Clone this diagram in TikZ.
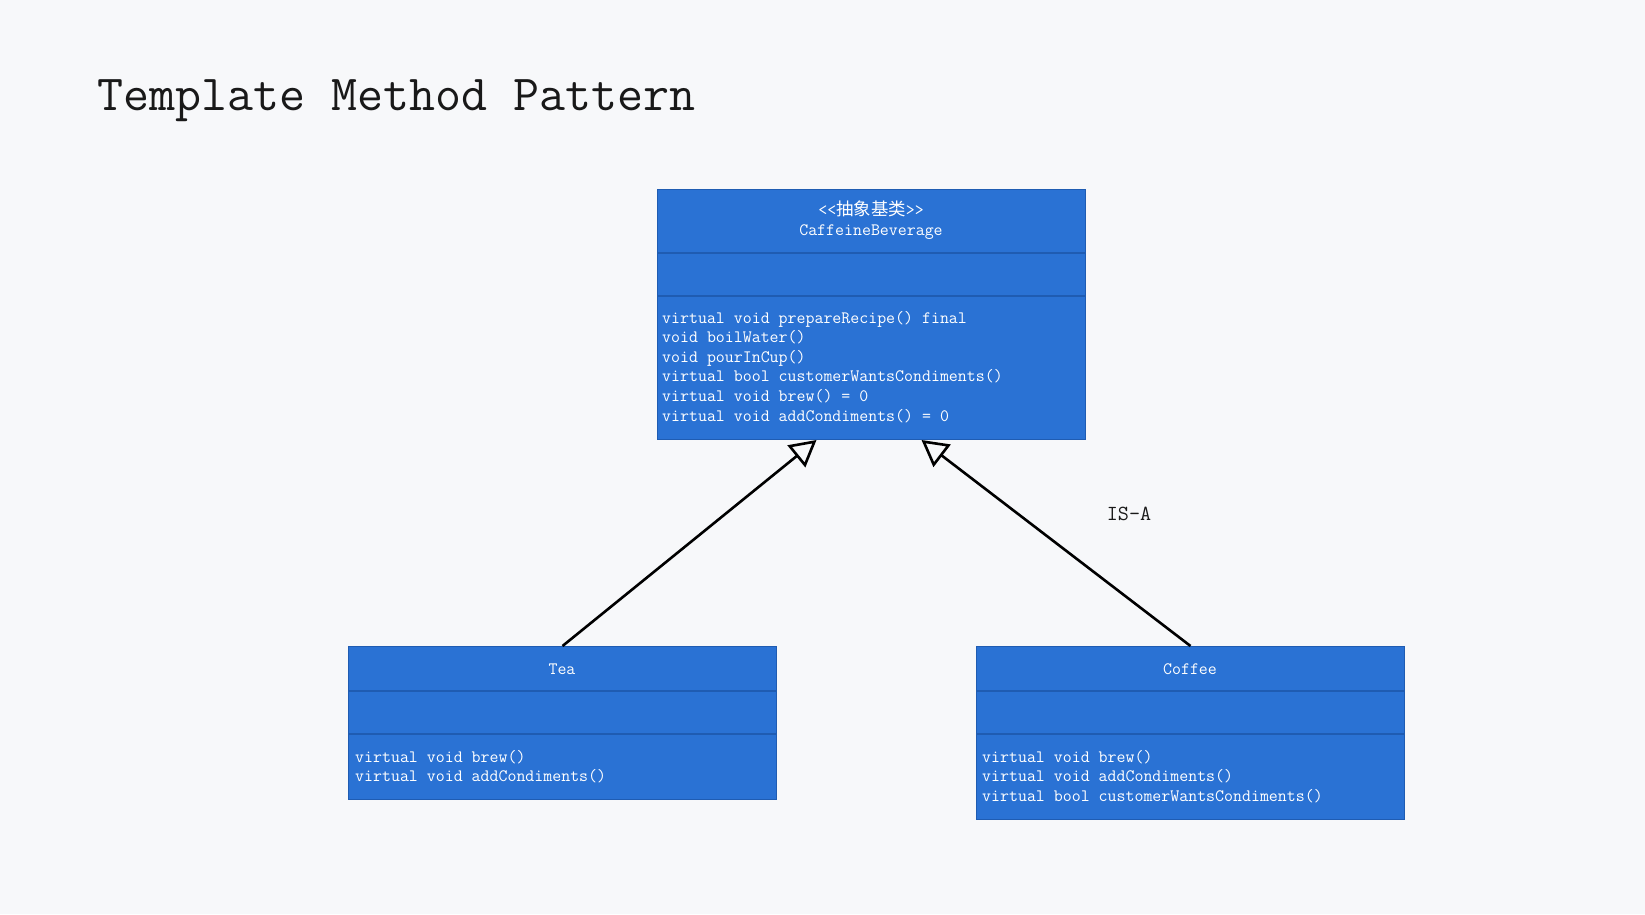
\documentclass[tikz,border=0pt]{standalone}
\usepackage{fontspec}
\newfontfamily\cjk{Noto Sans CJK SC}
\usetikzlibrary{arrows.meta,positioning}
\definecolor{umlblue}{RGB}{42,114,212}
\definecolor{umledge}{RGB}{31,92,178}
\definecolor{paper}{RGB}{247,248,250}

\begin{document}
\begin{tikzpicture}[x=1pt, y=-1pt,
	classbox/.style={draw=umledge, fill=umlblue, line width=1pt, anchor=north west, inner sep=0pt, minimum width=428pt},
	divider/.style={draw=umledge, line width=1.5pt},
	member/.style={text=white, font=\ttfamily\fontsize{17.4}{19.6}\selectfont, align=left, inner sep=0pt, anchor=base west},
	header/.style={text=white, font=\ttfamily\fontsize{17.4}{20}\selectfont, align=center, inner sep=0pt},
	isa/.style={draw=black, line width=2.6pt, -{Triangle[open, length=26pt, width=28pt]}}]
	\fill[paper] (0,0) rectangle (1645,914);
	\node[anchor=base west, inner sep=0pt, text=black!90, font=\ttfamily\fontsize{50.5}{56}\selectfont] (title) at (97,110) {Template Method Pattern};
	\node[classbox, minimum height=250pt] (base) at (657,189) {};
	\node[classbox, minimum height=153pt] (tea) at (348,646) {};
	\node[classbox, minimum height=173pt] (coffee) at (976,646) {};
	\draw[divider] ([yshift=-64pt]base.north west) -- ([yshift=-64pt]base.north east);
	\draw[divider] ([yshift=-107pt]base.north west) -- ([yshift=-107pt]base.north east);
	\draw[divider] ([yshift=-45pt]tea.north west) -- ([yshift=-45pt]tea.north east);
	\draw[divider] ([yshift=-88pt]tea.north west) -- ([yshift=-88pt]tea.north east);
	\draw[divider] ([yshift=-45pt]coffee.north west) -- ([yshift=-45pt]coffee.north east);
	\draw[divider] ([yshift=-88pt]coffee.north west) -- ([yshift=-88pt]coffee.north east);
	\node[header] (basename) at (871,220) {<<{\cjk 抽象基类}>>\\CaffeineBeverage};
	\node[header] (teaname) at (562,669) {Tea};
	\node[header] (coffeename) at (1190,669) {Coffee};
	\node[member] (baseops) at (662,421) {virtual void prepareRecipe() final\\void boilWater()\\void pourInCup()\\virtual bool customerWantsCondiments()\\virtual void brew() = 0\\virtual void addCondiments() = 0};
	\node[member] (teaops) at (355,781.6) {virtual void brew()\\virtual void addCondiments()};
	\node[member] (coffeeops) at (982,801.2) {virtual void brew()\\virtual void addCondiments()\\virtual bool customerWantsCondiments()};
	\draw[isa] (tea.north) -- ([xshift=-55pt]base.south);
	\draw[isa] (coffee.north) -- ([xshift=50pt]base.south);
	\node[font=\ttfamily\fontsize{21.5}{24}\selectfont, text=black!90] (isalabel) at (1129,514) {IS-A};
\end{tikzpicture}
\end{document}
